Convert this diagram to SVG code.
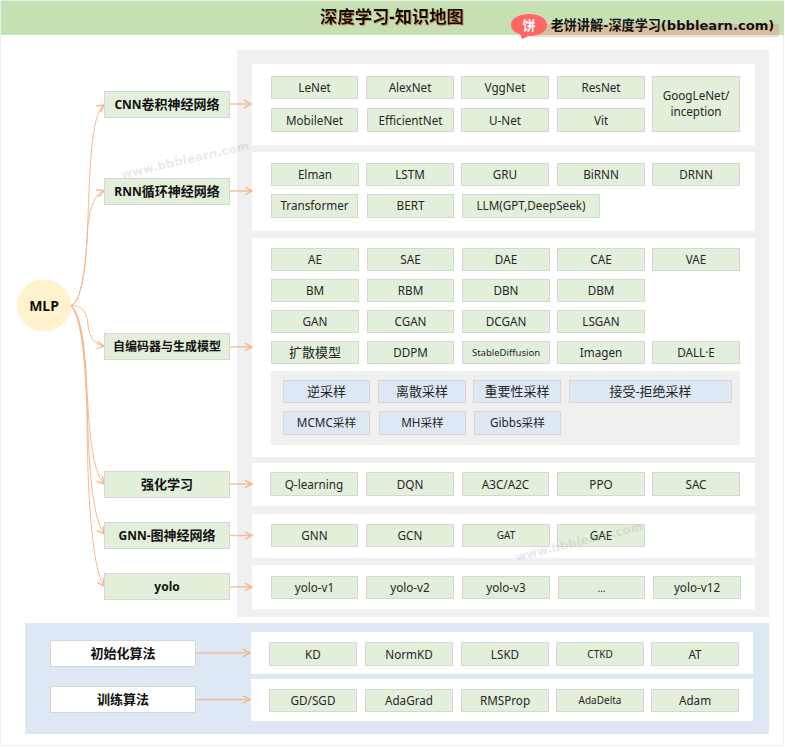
<svg xmlns="http://www.w3.org/2000/svg" width="785" height="747" viewBox="0 0 785 747">
<style>
text{font-family:"Noto Sans","Noto Sans CJK SC",sans-serif;text-anchor:middle;fill:#262626;font-size:11.700px}
.n{fill:#e2efda;stroke:#d6d6d6;stroke-width:1}
.s{fill:#dde8f4;stroke:#d6d6d6;stroke-width:1}
.w{fill:#fff;stroke:#d6d6d6;stroke-width:1}
.z{fill:#f0f0f0}
.p{fill:#fff}
.b{font-weight:700;fill:#111;font-size:13px}
.c{font-size:13px}
.m{font-size:10px}
.la{font-size:12px}
.l{fill:none;stroke:#f4b183;stroke-width:1;stroke-opacity:.9;marker-end:url(#a)}
.h{fill:none;stroke:#f4b183;stroke-width:1.5;stroke-opacity:.8;marker-end:url(#a)}
.wm{font-family:"DejaVu Sans",sans-serif;font-weight:700;font-size:11.800px;letter-spacing:.2px;fill:#8c8c8c;fill-opacity:.2}
</style>
<defs>
<marker id="a" markerUnits="userSpaceOnUse" markerWidth="10" markerHeight="10" refX="8" refY="5" orient="auto"><path d="M1,1.200 L8,5 L1,8.800" fill="none" stroke="#f4b183" stroke-width="1.300"/></marker>
<filter id="sh" x="-5%" y="-20%" width="110%" height="140%"><feDropShadow dx="1" dy="1" stdDeviation=".6" flood-color="#c55a11" flood-opacity=".6"/></filter>
</defs>
<rect x="0.500" y="0.500" width="783" height="745" fill="#fff" stroke="#ececec"/>
<g id="header">
<rect x="1" y="1" width="783" height="34" fill="#c6e0b4"/>
<text x="392" y="22.500" filter="url(#sh)" style="font-size:17.300px;font-weight:700;fill:#111">深度学习-知识地图</text>
<rect x="530" y="24" width="249" height="13" fill="#ff6666" fill-opacity=".27"/>
<path d="M511,25 C511,18 519,14 529,14 C539,14 547,18 547,25 C547,32 539,36 529,36 L522,39 L520,34 C514,33 511,29 511,25Z" fill="#ff6666"/>
<text x="529" y="30" style="font-size:13px;font-weight:700;fill:#fff">饼</text>
<text x="662.500" y="30" style="font-family:'DejaVu Sans','Noto Sans CJK SC',sans-serif;font-size:13.100px;font-weight:700;fill:#111">老饼讲解-深度学习(bbblearn.com)</text>
</g>
<g id="panels">
<rect class="z" x="237" y="50" width="532" height="567"/>
<rect class="p" x="252" y="64" width="503" height="81"/>
<rect class="p" x="252" y="152" width="503" height="79"/>
<rect class="p" x="252" y="238" width="503" height="219"/>
<rect class="z" x="271" y="371" width="469" height="74"/>
<rect class="p" x="252" y="463" width="503" height="43"/>
<rect class="p" x="252" y="514" width="503" height="44"/>
<rect class="p" x="252" y="565" width="503" height="44"/>
<rect x="25" y="623" width="744" height="111" fill="#dde8f4"/>
<rect class="p" x="251" y="632" width="502" height="42"/>
<rect class="p" x="251" y="679" width="502" height="42"/>
</g>
<g id="connectors">
<path class="l" d="M71,305.500 C80,303 85,275 87,240 C90,175 90,115 104,105"/>
<path class="l" d="M71,305.500 C80,303 85,275 87,240 C88,215 92,195 104,191"/>
<path class="l" d="M71,305.500 C82,305 87,312 88,325 C89,337 95,345 104,346"/>
<path class="l" d="M71,305.500 C82,315 85,350 87,390 C89,430 92,470 104,484"/>
<path class="l" d="M71,305.500 C82,318 85,355 87,400 C88,440 90,515 104,534"/>
<path class="l" d="M71,305.500 C82,320 85,360 87,410 C87,470 90,565 104,586"/>
<path class="h" d="M230,104 H251"/>
<path class="h" d="M230,191 H252"/>
<path class="h" d="M230,347 H252"/>
<path class="h" d="M230,484 H252"/>
<path class="h" d="M230,535.500 H252"/>
<path class="h" d="M230,587 H252"/>
<path class="h" d="M196,653 H250"/>
<path class="h" d="M196,699.500 H250"/>
</g>
<g id="mlp"><ellipse cx="44" cy="305.500" rx="27" ry="26" fill="#fff2cc"/><text class="b" x="44" y="311" style="font-size:14px">MLP</text></g>
<g id="cnn"><rect class="n" x="104.500" y="91.500" width="125" height="26"/><text class="b" x="167" y="109"><tspan class="la">CNN</tspan>卷积神经网络</text></g>
<g id="rnn"><rect class="n" x="104.500" y="178.500" width="125" height="26"/><text class="b" x="167" y="196"><tspan class="la">RNN</tspan>循环神经网络</text></g>
<g id="ae"><rect class="n" x="104.500" y="333.500" width="125" height="26"/><text class="b" x="167" y="351" style="font-size:12px">自编码器与生成模型</text></g>
<g id="rl"><rect class="n" x="104.500" y="471.500" width="125" height="26"/><text class="b" x="167" y="489">强化学习</text></g>
<g id="gnn"><rect class="n" x="104.500" y="522.500" width="125" height="26"/><text class="b" x="167" y="540"><tspan class="la">GNN-</tspan>图神经网络</text></g>
<g id="yolo"><rect class="n" x="104.500" y="573.500" width="125" height="26"/><text class="b" x="167" y="591" style="font-size:12px">yolo</text></g>
<g id="init"><rect class="w" x="50.500" y="640.500" width="145" height="26"/><text class="b" x="123" y="658">初始化算法</text></g>
<g id="train"><rect class="w" x="50.500" y="686.500" width="145" height="26"/><text class="b" x="123" y="704">训练算法</text></g>
<g id="lenet"><rect class="n" x="271.500" y="76.500" width="86" height="22"/><text x="314.500" y="92">LeNet</text></g>
<g id="alexnet"><rect class="n" x="366.500" y="76.500" width="87" height="22"/><text x="410" y="92">AlexNet</text></g>
<g id="vggnet"><rect class="n" x="461.500" y="76.500" width="87" height="22"/><text x="505" y="92">VggNet</text></g>
<g id="resnet"><rect class="n" x="557.500" y="76.500" width="87" height="22"/><text x="601" y="92">ResNet</text></g>
<g id="googlenet"><rect class="n" x="652.500" y="76.500" width="87" height="55"/><text x="696" y="100">GoogLeNet/</text><text x="696" y="116">inception</text></g>
<g id="mobilenet"><rect class="n" x="271.500" y="108.500" width="86" height="23"/><text x="314.500" y="125">MobileNet</text></g>
<g id="efficientnet"><rect class="n" x="367.500" y="108.500" width="86" height="23"/><text x="410.500" y="125">EfficientNet</text></g>
<g id="unet"><rect class="n" x="461.500" y="108.500" width="87" height="23"/><text x="505" y="125">U-Net</text></g>
<g id="vit"><rect class="n" x="557.500" y="108.500" width="87" height="23"/><text x="601" y="125">Vit</text></g>
<g id="elman"><rect class="n" x="271.500" y="163.500" width="87" height="22"/><text x="315" y="179">Elman</text></g>
<g id="lstm"><rect class="n" x="366.500" y="163.500" width="87" height="22"/><text x="410" y="179">LSTM</text></g>
<g id="gru"><rect class="n" x="461.500" y="163.500" width="87" height="22"/><text x="505" y="179">GRU</text></g>
<g id="birnn"><rect class="n" x="557.500" y="163.500" width="87" height="22"/><text x="601" y="179">BiRNN</text></g>
<g id="drnn"><rect class="n" x="652.500" y="163.500" width="87" height="22"/><text x="696" y="179">DRNN</text></g>
<g id="transformer"><rect class="n" x="271.500" y="194.500" width="86" height="23"/><text x="314.500" y="210">Transformer</text></g>
<g id="bert"><rect class="n" x="367.500" y="194.500" width="86" height="23"/><text x="410.500" y="210">BERT</text></g>
<g id="llm"><rect class="n" x="462.500" y="194.500" width="137" height="23"/><text x="531" y="210">LLM(GPT,DeepSeek)</text></g>
<g id="ae1"><rect class="n" x="271.500" y="248.500" width="87" height="22"/><text x="315" y="264">AE</text></g>
<g id="sae"><rect class="n" x="367.500" y="248.500" width="86" height="22"/><text x="410.500" y="264">SAE</text></g>
<g id="dae"><rect class="n" x="462.500" y="248.500" width="87" height="22"/><text x="506" y="264">DAE</text></g>
<g id="cae"><rect class="n" x="557.500" y="248.500" width="87" height="22"/><text x="601" y="264">CAE</text></g>
<g id="vae"><rect class="n" x="652.500" y="248.500" width="87" height="22"/><text x="696" y="264">VAE</text></g>
<g id="bm"><rect class="n" x="271.500" y="279.500" width="87" height="22"/><text x="315" y="295">BM</text></g>
<g id="rbm"><rect class="n" x="367.500" y="279.500" width="86" height="22"/><text x="410.500" y="295">RBM</text></g>
<g id="dbn"><rect class="n" x="462.500" y="279.500" width="87" height="22"/><text x="506" y="295">DBN</text></g>
<g id="dbm"><rect class="n" x="557.500" y="279.500" width="87" height="22"/><text x="601" y="295">DBM</text></g>
<g id="gan"><rect class="n" x="271.500" y="310.500" width="87" height="22"/><text x="315" y="326">GAN</text></g>
<g id="cgan"><rect class="n" x="367.500" y="310.500" width="86" height="22"/><text x="410.500" y="326">CGAN</text></g>
<g id="dcgan"><rect class="n" x="462.500" y="310.500" width="87" height="22"/><text x="506" y="326">DCGAN</text></g>
<g id="lsgan"><rect class="n" x="557.500" y="310.500" width="87" height="22"/><text x="601" y="326">LSGAN</text></g>
<g id="diffusion"><rect class="n" x="271.500" y="341.500" width="87" height="22"/><text class="c" x="315" y="357">扩散模型</text></g>
<g id="ddpm"><rect class="n" x="367.500" y="341.500" width="86" height="22"/><text x="410.500" y="357">DDPM</text></g>
<g id="sd"><rect class="n" x="462.500" y="341.500" width="87" height="22"/><text x="506" y="356" style="font-size:9.500px">StableDiffusion</text></g>
<g id="imagen"><rect class="n" x="557.500" y="341.500" width="87" height="22"/><text x="601" y="357">Imagen</text></g>
<g id="dalle"><rect class="n" x="652.500" y="341.500" width="87" height="22"/><text x="696" y="357">DALL·E</text></g>
<g id="s1"><rect class="s" x="283.500" y="380.500" width="86" height="22"/><text class="c" x="326.500" y="396">逆采样</text></g>
<g id="s2"><rect class="s" x="378.500" y="380.500" width="87" height="22"/><text class="c" x="422" y="396">离散采样</text></g>
<g id="s3"><rect class="s" x="473.500" y="380.500" width="87" height="22"/><text class="c" x="517" y="396">重要性采样</text></g>
<g id="s4"><rect class="s" x="569.500" y="380.500" width="162" height="22"/><text class="c" x="650.500" y="396">接受-拒绝采样</text></g>
<g id="s5"><rect class="s" x="283.500" y="411.500" width="86" height="23"/><text x="326.500" y="427">MCMC采样</text></g>
<g id="s6"><rect class="s" x="379.500" y="411.500" width="86" height="23"/><text x="422.500" y="427">MH采样</text></g>
<g id="s7"><rect class="s" x="474.500" y="411.500" width="86" height="23"/><text x="517.500" y="427">Gibbs采样</text></g>
<g id="qlearning"><rect class="n" x="270.500" y="472.500" width="87" height="23"/><text x="314" y="489">Q-learning</text></g>
<g id="dqn"><rect class="n" x="366.500" y="472.500" width="87" height="23"/><text x="410" y="489">DQN</text></g>
<g id="a3c"><rect class="n" x="462.500" y="472.500" width="86" height="23"/><text x="505.500" y="489">A3C/A2C</text></g>
<g id="ppo"><rect class="n" x="557.500" y="472.500" width="87" height="23"/><text x="601" y="489">PPO</text></g>
<g id="sac"><rect class="n" x="652.500" y="472.500" width="87" height="23"/><text x="696" y="489">SAC</text></g>
<g id="gnn1"><rect class="n" x="271.500" y="524.500" width="86" height="22"/><text x="314.500" y="540">GNN</text></g>
<g id="gcn"><rect class="n" x="366.500" y="524.500" width="87" height="22"/><text x="410" y="540">GCN</text></g>
<g id="gat"><rect class="n" x="462.500" y="524.500" width="87" height="22"/><text class="m" x="506" y="539">GAT</text></g>
<g id="gae"><rect class="n" x="557.500" y="524.500" width="87" height="22"/><text x="601" y="540">GAE</text></g>
<g id="yolo1"><rect class="n" x="271.500" y="576.500" width="86" height="22"/><text x="314.500" y="592">yolo-v1</text></g>
<g id="yolo2"><rect class="n" x="366.500" y="576.500" width="87" height="22"/><text x="410" y="592">yolo-v2</text></g>
<g id="yolo3"><rect class="n" x="462.500" y="576.500" width="87" height="22"/><text x="506" y="592">yolo-v3</text></g>
<g id="yolodots"><rect class="n" x="558.500" y="576.500" width="86" height="22"/><text class="m" x="601.500" y="592">...</text></g>
<g id="yolo12"><rect class="n" x="653.500" y="576.500" width="87" height="22"/><text x="697" y="592">yolo-v12</text></g>
<g id="kd"><rect class="n" x="269.500" y="642.500" width="87" height="23"/><text x="313" y="659">KD</text></g>
<g id="normkd"><rect class="n" x="365.500" y="642.500" width="87" height="23"/><text x="409" y="659">NormKD</text></g>
<g id="lskd"><rect class="n" x="461.500" y="642.500" width="87" height="23"/><text x="505" y="659">LSKD</text></g>
<g id="ctkd"><rect class="n" x="556.500" y="642.500" width="87" height="23"/><text class="m" x="600" y="658">CTKD</text></g>
<g id="at"><rect class="n" x="651.500" y="642.500" width="87" height="23"/><text x="695" y="659">AT</text></g>
<g id="gd"><rect class="n" x="269.500" y="689.500" width="87" height="22"/><text x="313" y="705">GD/SGD</text></g>
<g id="adagrad"><rect class="n" x="365.500" y="689.500" width="87" height="22"/><text x="409" y="705">AdaGrad</text></g>
<g id="rmsprop"><rect class="n" x="461.500" y="689.500" width="87" height="22"/><text x="505" y="705">RMSProp</text></g>
<g id="adadelta"><rect class="n" x="556.500" y="689.500" width="87" height="22"/><text class="m" x="600" y="704">AdaDelta</text></g>
<g id="adam"><rect class="n" x="651.500" y="689.500" width="87" height="22"/><text x="695" y="705">Adam</text></g>
<g id="watermarks">
<text class="wm" transform="translate(186,164) rotate(-13)">www.bbblearn.com</text>
<text class="wm" transform="translate(580,545.500) rotate(-14)">www.bbblearn.com</text>
</g>
</svg>
